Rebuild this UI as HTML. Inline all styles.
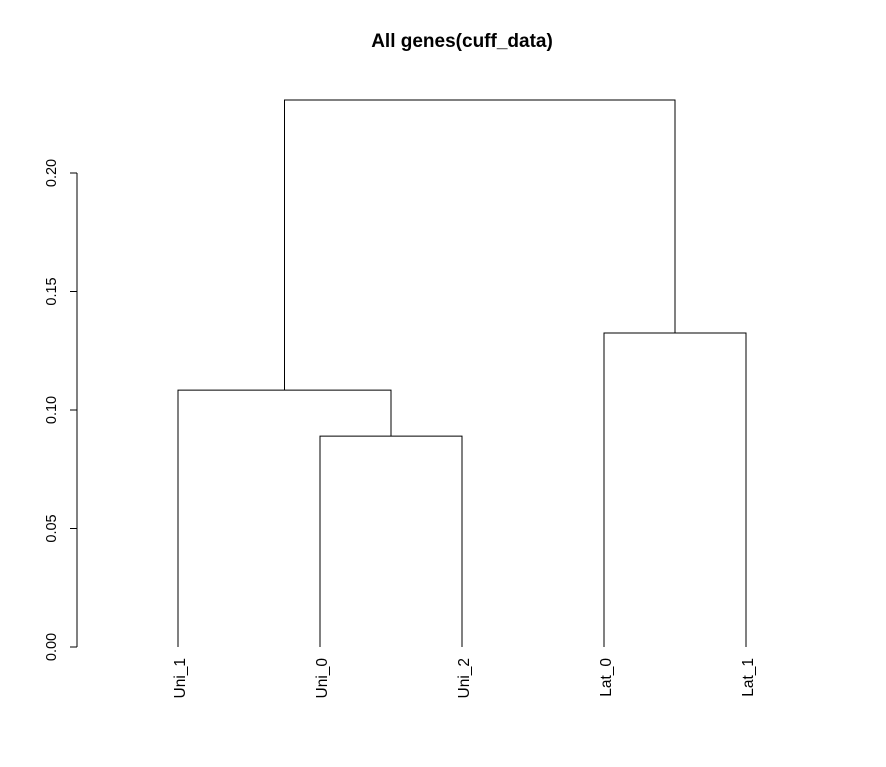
<!DOCTYPE html>
<html><head><meta charset="utf-8"><style>
body{margin:0;background:#fff;}
svg{display:block;font-family:"Liberation Sans",Arial,sans-serif;}
</style></head><body>
<svg id="chart" width="886" height="767">
<text x="462" y="47" text-anchor="middle" font-weight="bold" font-size="19">All genes(cuff_data)</text>
<g id="yaxis"></g>
<g id="tree"></g>
<g id="leaves"></g>
</svg>
<script>
const leafLabels = ["Uni_1","Uni_0","Uni_2","Lat_0","Lat_1"];
// merges: negative = leaf index (-(i+1)), positive = merge index (1-based)
const mergeLeft = [-2, -4, -1, 3];
const mergeRight = [-3, -5, 1, 2];
const mergeHeight = [0.089, 0.1325, 0.1084, 0.2308];
const yTicks = [0, 0.05, 0.10, 0.15, 0.20];
const yTickLabels = ["0.00","0.05","0.10","0.15","0.20"];

const NS="http://www.w3.org/2000/svg";
const y0=647, yScale=2370;
const yPos = v => y0 - v*yScale;
const xPos = i => 178 + i*142;
function mk(tag, attrs, parent){const e=document.createElementNS(NS,tag);for(const k in attrs)e.setAttribute(k,attrs[k]);parent.appendChild(e);return e;}

const yaxis=document.getElementById('yaxis');
mk('line',{x1:77,x2:77,y1:yPos(yTicks[0]),y2:yPos(yTicks[yTicks.length-1]),stroke:'#000'},yaxis);
yTicks.forEach((t,i)=>{
  const l=mk('line',{x1:70,x2:77,y1:yPos(t),y2:yPos(t),stroke:'#000'},yaxis);
  
  
  const tx=mk('text',{x:0,y:0,'font-size':14.5,'text-anchor':'middle',transform:`translate(56,${yPos(t)}) rotate(-90)`},yaxis);
  tx.textContent=yTickLabels[i];
  
  
});

const tree=document.getElementById('tree');
const leaves=document.getElementById('leaves');
leafLabels.forEach((lab,i)=>{
  const tx=mk('text',{x:0,y:0,'font-size':15.5,'text-anchor':'end',transform:`translate(${xPos(i)+7},658) rotate(-90)`},leaves);
  tx.textContent=lab;
  
  
});
const nodeX=[], nodeH=[];
function info(ref){ if(ref<0) return [xPos(-ref-1), 0]; return [nodeX[ref-1], nodeH[ref-1]]; }
mergeLeft.forEach((l,k)=>{
  const [xl,hl]=info(l), [xr,hr]=info(mergeRight[k]);
  const h=mergeHeight[k];
  const p=mk('path',{d:`M${xl},${yPos(hl)}V${yPos(h)}H${xr}V${yPos(hr)}`,fill:'none',stroke:'#000','stroke-width':1},tree);
  
  
  nodeX.push((xl+xr)/2); nodeH.push(h);
});
</script>
</body></html>
